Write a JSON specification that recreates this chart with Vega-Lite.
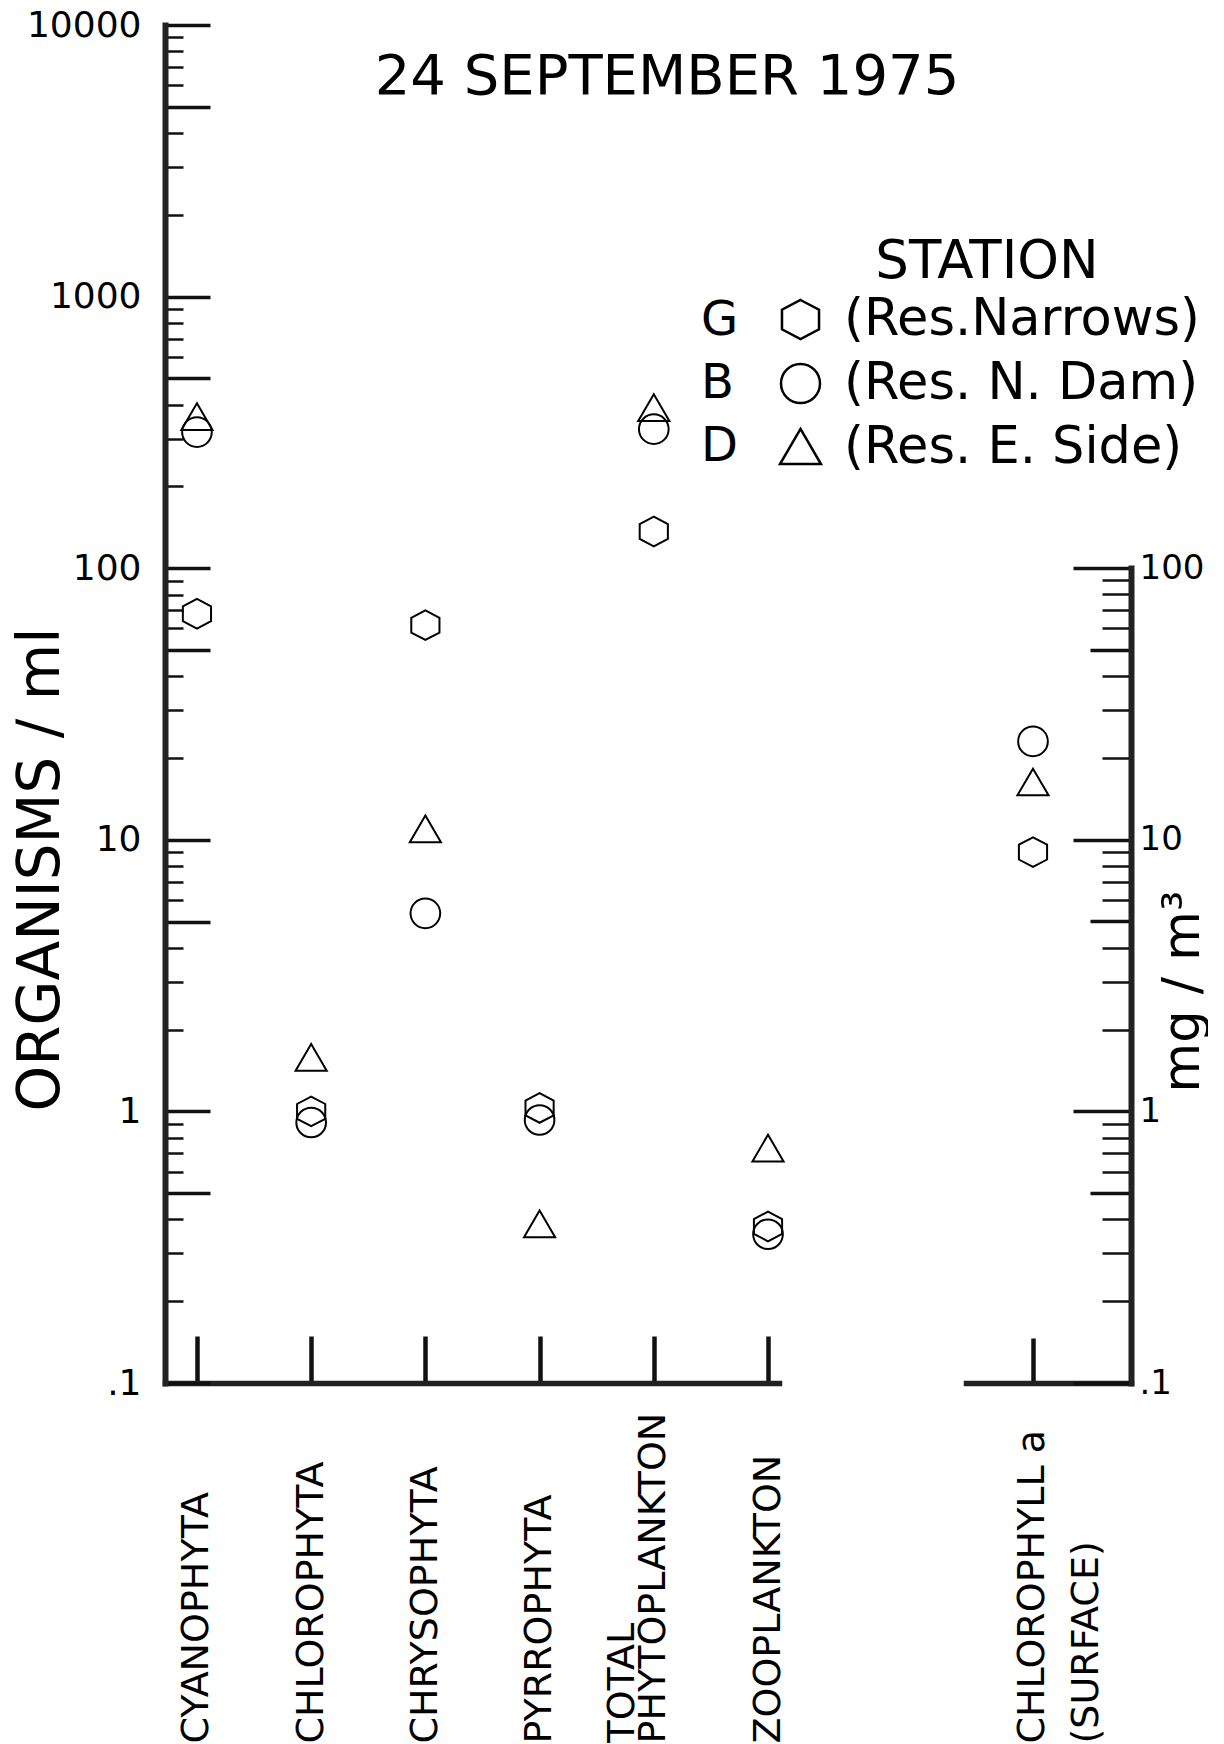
{
  "$schema": "https://vega.github.io/schema/vega-lite/v6.json",
  "background": "white",
  "padding": {"left": 12, "top": 7, "right": 0, "bottom": 0},
  "config": {
    "view": {"stroke": null},
    "font": "DejaVu Sans",
    "axis": {"grid": false, "domainColor": "#222222", "tickColor": "#111111", "labelColor": "black", "titleColor": "black", "labelFont": "DejaVu Sans", "titleFont": "DejaVu Sans", "titleFontWeight": "normal", "domainCap": "square"},
    "legend": {"labelFont": "DejaVu Sans", "titleFont": "DejaVu Sans", "labelColor": "black", "titleColor": "black"}
  },
  "title": {"text": "24 SEPTEMBER 1975", "fontSize": 56, "fontWeight": "normal", "font": "DejaVu Sans", "color": "black", "anchor": "middle", "dy": 103, "dx": 57},
  "datasets": {
    "plankton": [
      {"group": "CYANOPHYTA", "station": "G", "site": "Res.Narrows", "value": 68},
      {"group": "CYANOPHYTA", "station": "B", "site": "Res. N. Dam", "value": 317},
      {"group": "CYANOPHYTA", "station": "D", "site": "Res. E. Side", "value": 359},
      {"group": "CHLOROPHYTA", "station": "G", "site": "Res.Narrows", "value": 1.0},
      {"group": "CHLOROPHYTA", "station": "B", "site": "Res. N. Dam", "value": 0.91},
      {"group": "CHLOROPHYTA", "station": "D", "site": "Res. E. Side", "value": 1.57},
      {"group": "CHRYSOPHYTA", "station": "G", "site": "Res.Narrows", "value": 61.7},
      {"group": "CHRYSOPHYTA", "station": "B", "site": "Res. N. Dam", "value": 5.36},
      {"group": "CHRYSOPHYTA", "station": "D", "site": "Res. E. Side", "value": 10.9},
      {"group": "PYRROPHYTA", "station": "G", "site": "Res.Narrows", "value": 1.03},
      {"group": "PYRROPHYTA", "station": "B", "site": "Res. N. Dam", "value": 0.93},
      {"group": "PYRROPHYTA", "station": "D", "site": "Res. E. Side", "value": 0.383},
      {"group": "TOTAL PHYTOPLANKTON", "station": "G", "site": "Res.Narrows", "value": 136.5},
      {"group": "TOTAL PHYTOPLANKTON", "station": "B", "site": "Res. N. Dam", "value": 325},
      {"group": "TOTAL PHYTOPLANKTON", "station": "D", "site": "Res. E. Side", "value": 388},
      {"group": "ZOOPLANKTON", "station": "G", "site": "Res.Narrows", "value": 0.377},
      {"group": "ZOOPLANKTON", "station": "B", "site": "Res. N. Dam", "value": 0.353},
      {"group": "ZOOPLANKTON", "station": "D", "site": "Res. E. Side", "value": 0.728}
    ],
    "chl": [
      {"group": "CHLOROPHYLL a (SURFACE)", "station": "G", "site": "Res.Narrows", "value": 9.0},
      {"group": "CHLOROPHYLL a (SURFACE)", "station": "B", "site": "Res. N. Dam", "value": 23.0},
      {"group": "CHLOROPHYLL a (SURFACE)", "station": "D", "site": "Res. E. Side", "value": 16.2}
    ]
  },
  "spacing": 178,
  "hconcat": [
    {
      "width": 614,
      "height": 1358,
      "data": {"name": "plankton"},
      "mark": {"type": "point", "filled": false, "size": 880, "strokeWidth": 2, "opacity": 1},
      "encoding": {
        "x": {
          "field": "group", "type": "nominal",
          "sort": ["CYANOPHYTA", "CHLOROPHYTA", "CHRYSOPHYTA", "PYRROPHYTA", "TOTAL PHYTOPLANKTON", "ZOOPLANKTON"],
          "scale": {"type": "point", "padding": 0.188, "align": 0.744},
          "axis": {
            "title": null, "labelAngle": -90, "labelAlign": "left", "labelBaseline": "middle",
            "labelFontSize": 38, "labelPadding": 407, "labelLineHeight": 31, "labelLimit": 0, "labelOverlap": false,
            "labelExpr": "datum.value == 'TOTAL PHYTOPLANKTON' ? ['TOTAL', 'PHYTOPLANKTON'] : datum.value",
            "labelOffset": {"condition": {"test": "datum.value == 'TOTAL PHYTOPLANKTON'", "value": -31}, "value": 0},
            "tickSize": -47, "tickWidth": 4.5, "domainWidth": 5.5
          }
        },
        "y": {
          "field": "value", "type": "quantitative",
          "scale": {"type": "log", "domain": [0.1, 10000]},
          "axis": {
            "orient": "left", "title": "ORGANISMS / ml", "titleFontSize": 58, "titleAngle": 270,
            "titleX": -124, "titleY": 844, "titleBaseline": "middle", "titleAlign": "center",
            "values": [0.1,0.2,0.3,0.4,0.5,0.6,0.7,0.8,0.9,1,2,3,4,5,6,7,8,9,10,20,30,40,50,60,70,80,90,100,200,300,400,500,600,700,800,900,1000,2000,3000,4000,5000,6000,7000,8000,9000,10000],
            "labelExpr": "indexof([0.1,1,10,100,1000,10000], datum.value) >= 0 ? (datum.value == 0.1 ? '.1' : format(datum.value, 'd')) : ''",
            "labelFontSize": 36, "labelPadding": 69, "labelOverlap": false, "labelFlush": false,
            "tickSize": {"condition": {"test": "indexof([0.1,0.5,1,5,10,50,100,500,1000,5000,10000], datum.value) >= 0", "value": -45}, "value": -18},
            "tickWidth": {"condition": {"test": "indexof([0.1,0.5,1,5,10,50,100,500,1000,5000,10000], datum.value) >= 0", "value": 3.5}, "value": 2.5},
            "domainWidth": 6
          }
        },
        "shape": {
          "field": "site", "type": "nominal",
          "scale": {"domain": ["Res.Narrows", "Res. N. Dam", "Res. E. Side"], "range": ["M0,-1L0.95,-0.5L0.95,0.5L0,1L-0.95,0.5L-0.95,-0.5Z", "circle", "M0,-0.95L1.05,0.85L-1.05,0.85Z"]},
          "legend": {"title": "STATION", "orient": "none", "legendX": 610, "legendY": 211, "titleFontSize": 53, "titleFontWeight": "normal", "titleAnchor": "middle", "titlePadding": 5, "titleLimit": 0, "labelFontSize": 51, "labelOffset": 18, "symbolSize": 1521, "symbolStrokeWidth": 2.5, "symbolStrokeColor": "black", "symbolFillColor": "transparent", "rowPadding": 12, "labelExpr": "'(' + datum.label + ')'", "labelLimit": 0, "padding": 0}
        },
        "color": {
          "field": "station", "type": "nominal",
          "scale": {"domain": ["G", "B", "D"], "range": ["black", "black", "black"]},
          "legend": {"title": null, "orient": "none", "legendX": 488, "legendY": 272, "labelFontSize": 48, "symbolSize": 1, "symbolOpacity": 0, "labelOffset": 0, "rowPadding": 15, "padding": 0, "labelLimit": 0}
        }
      }
    },
    {
      "width": 165,
      "height": 1358,
      "data": {"name": "chl"},
      "mark": {"type": "point", "filled": false, "size": 880, "strokeWidth": 2, "opacity": 1},
      "encoding": {
        "x": {
          "field": "group", "type": "nominal",
          "scale": {"type": "point", "padding": 0, "align": 0.406},
          "axis": {
            "title": null, "labelAngle": -90, "labelAlign": "left", "labelBaseline": "middle",
            "labelFontSize": 38, "labelPadding": 405, "labelLineHeight": 54, "labelOffset": 0, "labelLimit": 0,
            "labelExpr": "['CHLOROPHYLL a', '(SURFACE)']",
            "tickSize": -45, "tickWidth": 4.5, "domainWidth": 5.5
          }
        },
        "y": {
          "field": "value", "type": "quantitative",
          "scale": {"type": "log", "domain": [0.1, 100], "range": [1358, 543]},
          "axis": {
            "orient": "right", "title": "mg / m³", "titleFontSize": 51, "titleAngle": 270,
            "titleX": 52, "titleY": 966, "titleBaseline": "middle", "titleAlign": "center",
            "values": [0.1,0.2,0.3,0.4,0.5,0.6,0.7,0.8,0.9,1,2,3,4,5,6,7,8,9,10,20,30,40,50,60,70,80,90,100],
            "labelExpr": "indexof([0.1,1,10,100], datum.value) >= 0 ? (datum.value == 0.1 ? '.1' : format(datum.value, 'd')) : ''",
            "labelFontSize": 34, "labelPadding": 66, "labelOverlap": false, "labelFlush": false,
            "tickSize": {"condition": [{"test": "indexof([0.1,1,10,100], datum.value) >= 0", "value": -58}, {"test": "indexof([0.5,5,50], datum.value) >= 0", "value": -41}], "value": -29},
            "tickWidth": {"condition": {"test": "indexof([0.1,0.5,1,5,10,50,100], datum.value) >= 0", "value": 3.5}, "value": 2.5},
            "domainWidth": 6
          }
        },
        "shape": {
          "field": "site", "type": "nominal",
          "scale": {"domain": ["Res.Narrows", "Res. N. Dam", "Res. E. Side"], "range": ["M0,-1L0.95,-0.5L0.95,0.5L0,1L-0.95,0.5L-0.95,-0.5Z", "circle", "M0,-0.95L1.05,0.85L-1.05,0.85Z"]},
          "legend": {"title": "STATION", "orient": "none", "legendX": 610, "legendY": 211, "titleFontSize": 53, "titleFontWeight": "normal", "titleAnchor": "middle", "titlePadding": 5, "titleLimit": 0, "labelFontSize": 51, "labelOffset": 18, "symbolSize": 1521, "symbolStrokeWidth": 2.5, "symbolStrokeColor": "black", "symbolFillColor": "transparent", "rowPadding": 12, "labelExpr": "'(' + datum.label + ')'", "labelLimit": 0, "padding": 0}
        },
        "color": {
          "field": "station", "type": "nominal",
          "scale": {"domain": ["G", "B", "D"], "range": ["black", "black", "black"]},
          "legend": {"title": null, "orient": "none", "legendX": 488, "legendY": 272, "labelFontSize": 48, "symbolSize": 1, "symbolOpacity": 0, "labelOffset": 0, "rowPadding": 15, "padding": 0, "labelLimit": 0}
        }
      }
    }
  ]
}
